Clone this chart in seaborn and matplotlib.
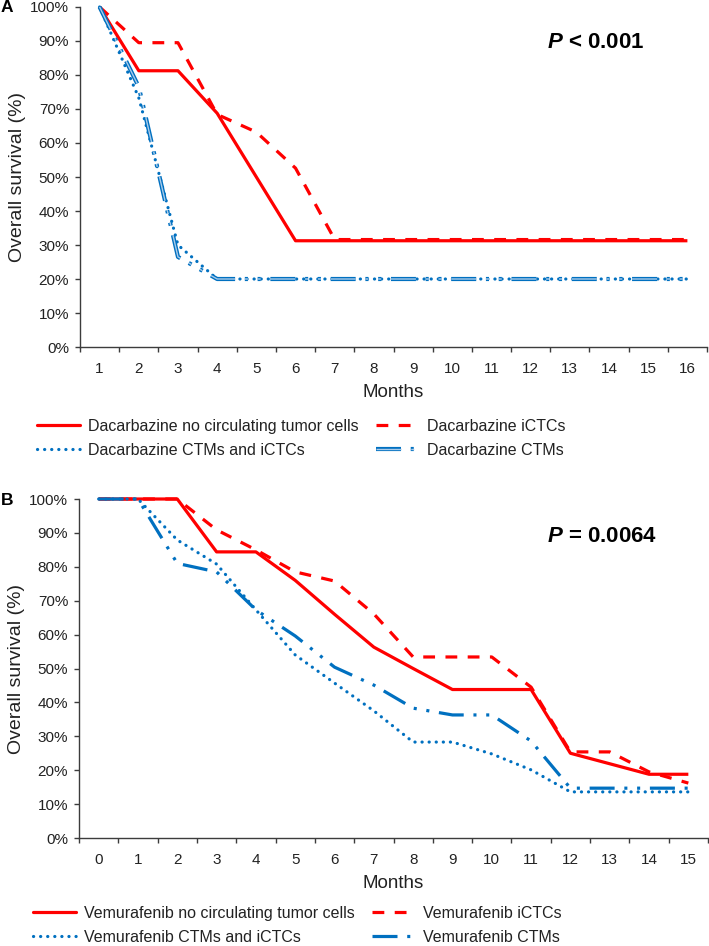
import numpy as np
import pandas as pd
import matplotlib
matplotlib.use("Agg")
import matplotlib.pyplot as plt
import seaborn as sns
from matplotlib.ticker import PercentFormatter
from matplotlib.lines import Line2D

# ---------------- data ----------------
months_a = list(range(1, 17))
dac_none = [100, 81.25, 81.25, 68.75, 50.0, 31.25, 31.25, 31.25, 31.25, 31.25, 31.25, 31.25, 31.25, 31.25, 31.25, 31.25]
dac_ictc = [100, 89.5, 89.5, 68.4, 63.2, 52.6, 31.6, 31.6, 31.6, 31.6, 31.6, 31.6, 31.6, 31.6, 31.6, 31.6]
dac_ctm_ictc = [100, 73.3, 30.0, 20, 20, 20, 20, 20, 20, 20, 20, 20, 20, 20, 20, 20]
dac_ctm = [100, 76.5, 26.5, 20, 20, 20, 20, 20, 20, 20, 20, 20, 20, 20, 20, 20]

months_b = list(range(0, 16))
vem_none = [100, 100, 100, 84.4, 84.4, 76.0, 66.0, 56.3, 50.0, 43.8, 43.8, 43.8, 25.0, 21.9, 18.8, 18.8]
vem_ictc = [100, 100, 100, 90.9, 85.0, 78.5, 75.8, 66.1, 53.4, 53.4, 53.4, 44.5, 25.4, 25.4, 19.5, 16.2]
vem_ctm_ictc = [100, 100, 87.9, 80.8, 67.3, 54.0, 45.7, 37.5, 28.3, 28.3, 24.8, 20.1, 13.6, 13.6, 13.6, 13.6]
vem_ctm = [100, 100, 81.0, 78.5, 67.3, 59.6, 50.4, 45.1, 38.3, 36.3, 36.3, 28.6, 14.7, 14.7, 14.7, 14.7]

labels_a = ["Dacarbazine no circulating tumor cells", "Dacarbazine iCTCs",
            "Dacarbazine CTMs and iCTCs", "Dacarbazine CTMs"]
labels_b = ["Vemurafenib no circulating tumor cells", "Vemurafenib iCTCs",
            "Vemurafenib CTMs and iCTCs", "Vemurafenib CTMs"]
pvals = ["< 0.001", "= 0.0064"]

# ---------------- style ----------------
sns.set_theme(style="white")
plt.rcParams['font.family'] = ['Liberation Sans', 'DejaVu Sans']
plt.rcParams['lines.scale_dashes'] = False
plt.rcParams['mathtext.fontset'] = 'custom'
plt.rcParams['mathtext.it'] = 'Liberation Sans:italic:bold'
plt.rcParams['mathtext.rm'] = 'Liberation Sans:bold'

RED = '#FF0000'
BLUE = '#0070C0'
LIGHTBLUE = '#A9CBEA'
TXT = '#222222'
AX = '#3C3C3C'
LW = 2.3

SOLID = '-'
DASH = (0, (8.5, 7.5))
DOT = (0, (0.1, 5.0))
LDDD = (0, (18, 7, 2.2, 7, 2.2, 7))

W, H = 709, 946
fig = plt.figure(figsize=(W / 100, H / 100), dpi=100)
axA = fig.add_axes([80 / W, 1 - 347 / H, 627 / W, 340 / H])
axB = fig.add_axes([79 / W, 1 - 838 / H, 629 / W, 339 / H])


def style_axes(ax, months):
    ax.set_xlim(months[0] - 0.5, months[-1] + 0.5)
    ax.set_ylim(0, 100)
    ax.set_xticks(months)
    ax.set_xticklabels([str(m) for m in months])
    ax.set_xticks(np.arange(months[0] - 0.5, months[-1] + 1.0, 1.0), minor=True)
    ax.set_yticks(np.arange(0, 101, 10))
    ax.yaxis.set_major_formatter(PercentFormatter(decimals=0))
    for s in ['top', 'right']:
        ax.spines[s].set_visible(False)
    for s in ['left', 'bottom']:
        ax.spines[s].set_color(AX)
        ax.spines[s].set_linewidth(1.0)
    ax.tick_params(axis='x', which='major', bottom=True, length=0, pad=10.5,
                   labelsize=11, labelcolor=TXT)
    ax.tick_params(axis='x', which='minor', bottom=True, length=3.8, width=1.0, color=AX)
    ax.tick_params(axis='y', which='major', left=True, length=3.8, width=1.0, color=AX,
                   pad=4, labelsize=11, labelcolor=TXT)
    ax.set_xlabel("Months", fontsize=13.5, color=TXT, labelpad=6)
    ax.set_ylabel("Overall survival (%)", fontsize=14, color=TXT, labelpad=3)
    ax.grid(False)
    ax.set_facecolor('white')


def draw(ax, x, y, color, ls, lw=LW, cap='butt', z=2):
    sns.lineplot(x=x, y=y, ax=ax, color=color, linestyle=ls, linewidth=lw,
                 dash_capstyle=cap, solid_capstyle='butt', clip_on=False,
                 zorder=z, legend=False, estimator=None, sort=False)


leg_kw = dict(ncol=2, loc='upper left', frameon=False, fontsize=11.5, handlelength=2.7,
              handletextpad=0.5, columnspacing=1.05, labelspacing=0.55,
              borderaxespad=0, borderpad=0, labelcolor=TXT)

# ---------------- panel A ----------------
draw(axA, months_a, dac_none, RED, SOLID, z=3)
draw(axA, months_a, dac_ictc, RED, DASH, z=4)
draw(axA, months_a, dac_ctm_ictc, BLUE, DOT, cap='round', z=5)
draw(axA, months_a, dac_ctm, BLUE, LDDD, lw=3.0, z=6)
draw(axA, months_a, dac_ctm, LIGHTBLUE, LDDD, lw=1.0, z=7)
style_axes(axA, months_a)

hA = [Line2D([], [], color=RED, lw=LW, ls=SOLID),
      Line2D([], [], color=BLUE, lw=LW, ls=DOT, dash_capstyle='round'),
      Line2D([], [], color=RED, lw=LW, ls=DASH),
      (Line2D([], [], color=BLUE, lw=3.0, ls=LDDD),
       Line2D([], [], color=LIGHTBLUE, lw=1.0, ls=LDDD))]
lA = [labels_a[0], labels_a[2], labels_a[1], labels_a[3]]
fig.legend(hA, lA, bbox_to_anchor=(37 / W, 1 - 419 / H), **leg_kw)

# ---------------- panel B ----------------
draw(axB, months_b, vem_none, RED, SOLID, z=3)
draw(axB, months_b, vem_ictc, RED, DASH, z=4)
draw(axB, months_b, vem_ctm_ictc, BLUE, DOT, cap='round', z=5)
draw(axB, months_b, vem_ctm, BLUE, LDDD, lw=LW, z=6)
style_axes(axB, months_b)

hB = [Line2D([], [], color=RED, lw=LW, ls=SOLID),
      Line2D([], [], color=BLUE, lw=LW, ls=DOT, dash_capstyle='round'),
      Line2D([], [], color=RED, lw=LW, ls=DASH),
      Line2D([], [], color=BLUE, lw=LW, ls=LDDD)]
lB = [labels_b[0], labels_b[2], labels_b[1], labels_b[3]]
fig.legend(hB, lB, bbox_to_anchor=(33 / W, 1 - 906 / H), **leg_kw)

# ---------------- annotations ----------------
fig.text(547 / W, 1 - 43 / H, r"$P$ " + pvals[0], fontsize=16, fontweight='bold',
         color='black', ha='left', va='center')
fig.text(547 / W, 1 - 537 / H, r"$P$ " + pvals[1], fontsize=16, fontweight='bold',
         color='black', ha='left', va='center')
fig.text(7 / W, 1 - 8 / H, "A", fontsize=12.5, fontweight='bold', color='black',
         ha='center', va='center')
fig.text(7 / W, 1 - 500 / H, "B", fontsize=12.5, fontweight='bold', color='black',
         ha='center', va='center')

fig.savefig("out.png", dpi=100, facecolor='white')
